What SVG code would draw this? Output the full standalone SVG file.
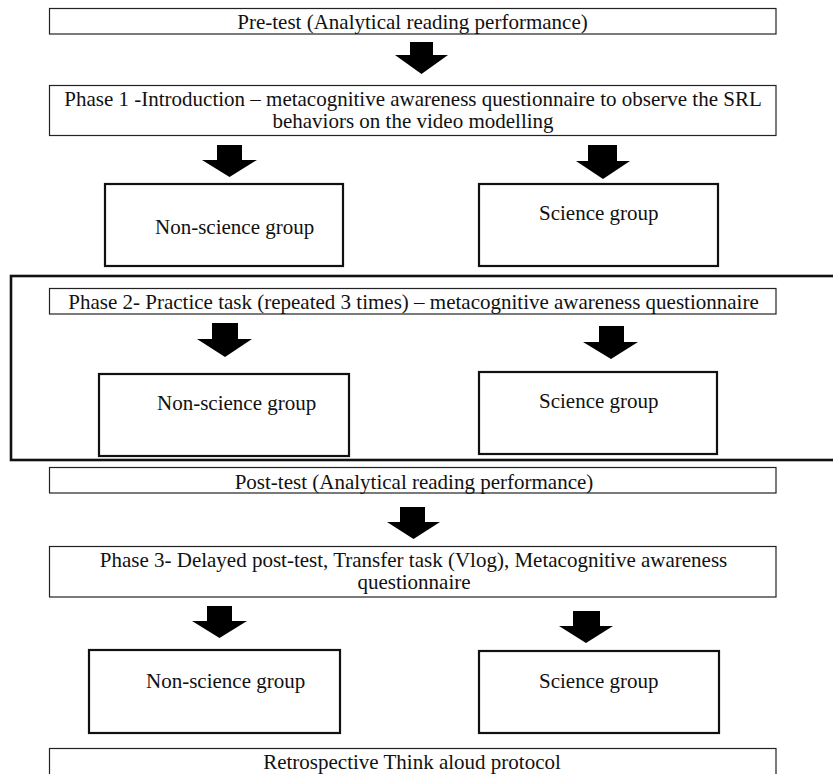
<svg xmlns="http://www.w3.org/2000/svg" width="833" height="774" viewBox="0 0 833 774">
  <style>
    text { font-family: "Liberation Serif", "Times New Roman", serif; font-size: 21px; fill: #111; }
    .c { text-anchor: middle; }
    .bar { fill: #fff; stroke: #222; stroke-width: 1.2; }
    .grp { fill: #fff; stroke: #111; stroke-width: 2.2; }
    .frame { fill: none; stroke: #111; stroke-width: 2.6; }
    .arrow { fill: #000; stroke: none; }
  </style>
  <rect width="833" height="774" fill="#fff"/>

  <!-- Phase 2 frame (runs past the right edge) -->
  <g id="phase2-frame">
    <rect class="frame" x="11" y="276" width="840" height="184"/>
  </g>

  <g id="pretest">
    <rect class="bar" x="49.5" y="8.5" width="726.5" height="25.5"/>
    <text class="c" x="412.5" y="28.5">Pre-test (Analytical reading performance)</text>
  </g>

  <g id="phase1">
    <rect class="bar" x="49.5" y="85.5" width="726.5" height="50"/>
    <text class="c" x="413" y="106">Phase 1 -Introduction – metacognitive awareness questionnaire to observe the SRL</text>
    <text class="c" x="413" y="128">behaviors on the video modelling</text>
  </g>

  <g id="phase1-nonscience">
    <rect class="grp" x="105" y="184" width="238" height="82"/>
    <text x="155" y="234">Non-science group</text>
  </g>
  <g id="phase1-science">
    <rect class="grp" x="479" y="184" width="239" height="82"/>
    <text x="539" y="220">Science group</text>
  </g>

  <g id="phase2">
    <rect class="bar" x="49.5" y="288.5" width="726.5" height="25.5"/>
    <text class="c" x="413.5" y="309">Phase 2- Practice task (repeated 3 times) – metacognitive awareness questionnaire</text>
  </g>

  <g id="phase2-nonscience">
    <rect class="grp" x="99" y="374" width="250" height="82"/>
    <text x="157" y="410">Non-science group</text>
  </g>
  <g id="phase2-science">
    <rect class="grp" x="479" y="372" width="238" height="82"/>
    <text x="539" y="408">Science group</text>
  </g>

  <g id="posttest">
    <rect class="bar" x="49.5" y="467.5" width="726.5" height="25.5"/>
    <text class="c" x="414" y="489">Post-test (Analytical reading performance)</text>
  </g>

  <g id="phase3">
    <rect class="bar" x="49.5" y="546.5" width="726.5" height="50.5"/>
    <text class="c" x="413.5" y="567">Phase 3- Delayed post-test, Transfer task (Vlog), Metacognitive awareness</text>
    <text class="c" x="414" y="589">questionnaire</text>
  </g>

  <g id="phase3-nonscience">
    <rect class="grp" x="89" y="650" width="251" height="83"/>
    <text x="146" y="688">Non-science group</text>
  </g>
  <g id="phase3-science">
    <rect class="grp" x="479" y="651" width="240" height="82"/>
    <text x="539" y="688">Science group</text>
  </g>

  <g id="retrospective">
    <rect class="bar" x="49.5" y="748.5" width="726.5" height="40"/>
    <text class="c" x="412" y="769">Retrospective Think aloud protocol</text>
  </g>

  <!-- block arrows between stages -->
  <g id="connectors" class="arrow">
    <polygon points="410,42 433,42 433,55 448,55 421.5,74 395,55 410,55"/>
    <polygon points="217,145 242,145 242,160 257,160 229.5,177 202,160 217,160"/>
    <polygon points="588,145 617,145 617,161 630,161 603,179 576,161 588,161"/>
    <polygon points="212,323 238,323 238,339 252,339 225,357 197,339 212,339"/>
    <polygon points="599,326 624,326 624,342 638,342 611,359 583,342 599,342"/>
    <polygon points="400,507 425,507 425,522 440,522 413.5,539 387,522 400,522"/>
    <polygon points="207,606 232,606 232,621 247,621 219.5,638 192,621 207,621"/>
    <polygon points="573,611 600,611 600,626 613,626 586,643 559,626 573,626"/>
  </g>
</svg>
